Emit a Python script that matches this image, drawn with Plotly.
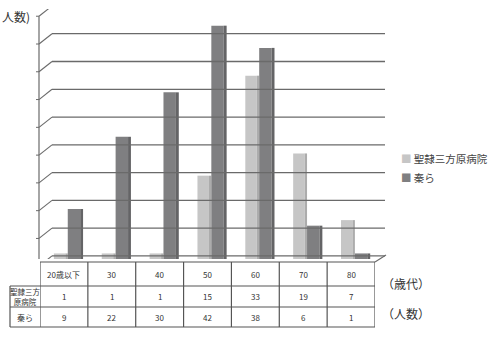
import plotly.graph_objects as go

categories = ["20歳以下", "30", "40", "50", "60", "70", "80"]
seirei = [1, 1, 1, 15, 33, 19, 7]
hata = [9, 22, 30, 42, 38, 6, 1]
series_names = ["聖隷三方原病院", "秦ら"]
row_labels = ["聖隷三方<br>原病院", "秦ら"]
grid_values = [0, 5, 10, 15, 20, 25, 30, 35, 40, 45]

W, H = 489, 345
FONT = "Noto Sans CJK JP"


def px(p):
    return p / W


def py(p):
    return (H - p) / H


fig = go.Figure()

LIGHT, LIGHT_SIDE = "#c6c6c6", "#acacac"
DARK, DARK_SIDE = "#7f7f81", "#646466"
idx = list(range(len(categories)))

fig.add_trace(go.Bar(x=idx, y=seirei, name=series_names[0], marker_color=LIGHT, showlegend=False,
                     marker_line_width=0, width=0.24, offset=-0.21))
fig.add_trace(go.Bar(x=idx, y=seirei, showlegend=False, marker_color=LIGHT_SIDE,
                     marker_line_width=0, width=0.05, offset=0.03, hoverinfo="skip"))
fig.add_trace(go.Bar(x=idx, y=hata, name=series_names[1], marker_color=DARK, showlegend=False,
                     marker_line_width=0, width=0.26, offset=0.08))
fig.add_trace(go.Bar(x=idx, y=hata, showlegend=False, marker_color=DARK_SIDE,
                     marker_line_width=0, width=0.06, offset=0.34, hoverinfo="skip"))
# legend entries (coloured square glyph + name)
for nm, col in zip(series_names, [LIGHT, DARK]):
    fig.add_trace(go.Scatter(x=[None], y=[None], mode="markers",
                             name=f'<span style="color:{col}">■</span> {nm}',
                             marker=dict(symbol="square", size=1, color="rgba(0,0,0,0)")))

shapes = []
line_col = "#6a6a6a"
for v in grid_values:
    shapes.append(dict(type="line", xref="paper", yref="y", x0=px(52), x1=px(385),
                       y0=v + 0.55, y1=v + 0.55, line=dict(color=line_col, width=1.3)))
    shapes.append(dict(type="line", xref="paper", yref="y", x0=px(39), x1=px(52),
                       y0=v - 1.3, y1=v + 0.55, line=dict(color=line_col, width=1.1)))
    shapes.append(dict(type="line", xref="paper", yref="y", x0=px(36), x1=px(39),
                       y0=v - 1.3, y1=v - 1.3, line=dict(color=line_col, width=1)))
shapes.append(dict(type="line", xref="paper", yref="y", x0=px(39), x1=px(39),
                   y0=-0.6, y1=45 - 1.3, line=dict(color=line_col, width=1.2)))
shapes.append(dict(type="line", xref="paper", yref="paper", x0=px(375), x1=px(386),
                   y0=py(262), y1=py(255), line=dict(color=line_col, width=1.1)))

# table
tcol = "#555555"
rows_y = [262, 286, 307, 327]
for j, yy in enumerate(rows_y):
    shapes.append(dict(type="line", xref="paper", yref="paper",
                       x0=px(40) if j == 0 else px(10), x1=px(375),
                       y0=py(yy), y1=py(yy), line=dict(color=tcol, width=1.2)))
for k in range(len(categories) + 1):
    shapes.append(dict(type="line", xref="x", yref="paper", x0=k - 0.5, x1=k - 0.5,
                       y0=py(262), y1=py(327), line=dict(color=tcol, width=1.2)))
shapes.append(dict(type="line", xref="paper", yref="paper", x0=px(10), x1=px(10),
                   y0=py(286), y1=py(327), line=dict(color=tcol, width=1.2)))

annotations = []
cell_font = dict(family=FONT, size=8, color="#333333")
row_centers = [274, 296.5, 317]
for i, c in enumerate(categories):
    for r, txt in enumerate([c, str(seirei[i]), str(hata[i])]):
        annotations.append(dict(x=i, xref="x", y=py(row_centers[r]), yref="paper", text=txt,
                                xanchor="center", yanchor="middle",
                                showarrow=False, font=cell_font))
annotations.append(dict(x=px(25), xref="paper", y=py(row_centers[1]), yref="paper", text=row_labels[0],
                        xanchor="center", yanchor="middle",
                        showarrow=False, font=dict(family=FONT, size=7.5, color="#333333")))
annotations.append(dict(x=px(25), xref="paper", y=py(row_centers[2]), yref="paper", text=row_labels[1],
                        xanchor="center", yanchor="middle",
                        showarrow=False, font=cell_font))
lab_font = dict(family=FONT, size=12, color="#333333")
annotations.append(dict(x=0, xref="paper", y=py(17), yref="paper", text="人数)",
                        xanchor="left", yanchor="middle", showarrow=False, font=lab_font))
annotations.append(dict(x=px(380), xref="paper", y=py(283), yref="paper", text="（歳代）",
                        xanchor="left", yanchor="middle", showarrow=False, font=lab_font))
annotations.append(dict(x=px(380), xref="paper", y=py(313), yref="paper", text="（人数）",
                        xanchor="left", yanchor="middle", showarrow=False, font=lab_font))

fig.update_layout(
    width=W, height=H,
    margin=dict(l=0, r=0, t=0, b=0, autoexpand=False),
    paper_bgcolor="white", plot_bgcolor="rgba(0,0,0,0)",
    barmode="overlay",
    showlegend=True,
    legend=dict(x=px(361), y=py(144), xanchor="left", yanchor="top",
                font=dict(family=FONT, size=10.5, color="#444444"),
                bgcolor="rgba(0,0,0,0)", itemwidth=30, tracegroupgap=0),
    xaxis=dict(domain=[px(40), px(375)], range=[-0.5, 6.5],
               showticklabels=False, showgrid=False, zeroline=False, showline=False, ticks=""),
    yaxis=dict(domain=[py(259), py(9)], range=[0, 45], showticklabels=False,
               showgrid=False, zeroline=False, showline=False, ticks=""),
    shapes=shapes,
    annotations=annotations,
)

fig.write_html("out.html")
